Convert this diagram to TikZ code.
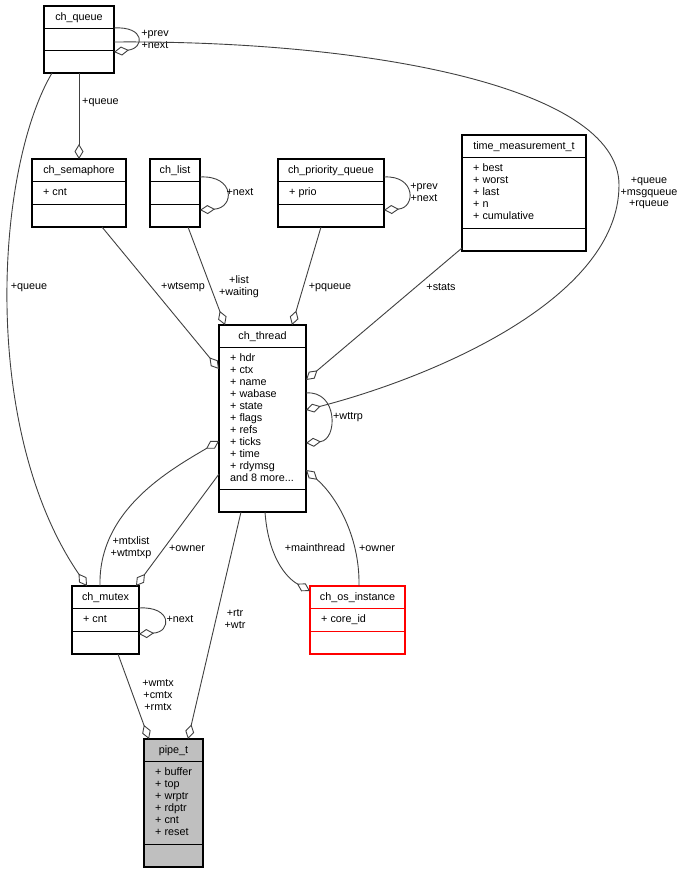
\documentclass[tikz,border=0pt]{standalone}
\usepackage{fontspec}
\setmainfont{Liberation Sans}
\usetikzlibrary{arrows.meta}
\definecolor{edgec}{HTML}{404040}
\definecolor{pipefill}{HTML}{BFBFBF}
\tikzset{
  box/.style={draw=black, line width=1.2pt, inner sep=0pt, outer sep=0pt, anchor=north west},
  rel/.style={draw=edgec, line width=0.9pt, -{Diamond[open,length=15pt,width=9pt,line width=0.9pt]}},
  lbl/.style={font=\fontsize{10.8}{12}\selectfont, align=center, inner sep=0pt},
  ttl/.style={font=\fontsize{10.8}{12}\selectfont, inner sep=0pt},
  attr/.style={font=\fontsize{10.8}{12}\selectfont, inner sep=0pt, anchor=base west},
}
\newcommand\umlclass[8]{%
  \node[box,#1,minimum width=#5-#3,minimum height=#6-#4] (#2) at (#3,#4) {};
  \draw[line width=1.2pt,#1] (#3,#4+22.5) -- (#5,#4+22.5);
  \draw[line width=1.2pt,#1] (#3,#6-22.5) -- (#5,#6-22.5);
  \node[ttl] (#2-title) at ({(#3+#5)/2},{#4+11.5}) {#7};
  \if\relax\detokenize{#8}\relax\else
  \node[attr] (#2-attrs) at (#3+11,#4+36) {\begin{tabular}[t]{@{}l@{}}#8\end{tabular}};
  \fi}
\begin{document}
\begin{tikzpicture}[x=1pt,y=-1pt]
\useasboundingbox (0,0) rectangle (683,873);
% classes
\umlclass{draw=black}{queue}{44}{6}{114}{73}{ch\_queue}{}
\umlclass{draw=black}{sem}{32}{159}{126}{227}{ch\_semaphore}{+ cnt}
\umlclass{draw=black}{list}{150}{159}{200}{227}{ch\_list}{}
\umlclass{draw=black}{pq}{278}{159}{384}{227}{ch\_priority\_queue}{+ prio}
\umlclass{draw=black}{tm}{462}{135}{586}{251}{time\_measurement\_t}{+ best\\+ worst\\+ last\\+ n\\+ cumulative}
\umlclass{draw=black}{thread}{219}{325}{306}{512}{ch\_thread}{+ hdr\\+ ctx\\+ name\\+ wabase\\+ state\\+ flags\\+ refs\\+ ticks\\+ time\\+ rdymsg\\and 8 more...}
\umlclass{draw=black}{mutex}{72}{586}{139}{654}{ch\_mutex}{+ cnt}
\umlclass{draw=red}{os}{310}{586}{405}{654}{ch\_os\_instance}{+ core\_id}
\umlclass{fill=pipefill}{pipe}{144}{739}{203}{867}{pipe\_t}{+ buffer\\+ top\\+ wrptr\\+ rdptr\\+ cnt\\+ reset}
% edges
\draw[rel] ([shift={(70,22)}]queue.north west) .. controls (145,26) and (145,48) .. ([shift={(70,46)}]queue.north west);
\node[lbl] (l1) at (155,39) {+prev\\+next};
\draw[rel] ([shift={(70,36)}]queue.north west) .. controls (360,40) and (619,85) .. (619,185)
  .. controls (619,300) and (430,378) .. ([shift={(87,85)}]thread.north west);
\node[lbl] (l2) at (649,193) {+queue\\+msgqueue\\+rqueue};
\draw[rel] ([shift={(35,67)}]queue.north west) -- ([shift={(47,0)}]sem.north west);
\node[lbl, anchor=west] (l3) at (82,103) {+queue};
\draw[rel] ([shift={(8,67)}]queue.north west) .. controls (-5,170) and (-20,430) .. ([shift={(15,0)}]mutex.north west);
\node[lbl] (l4) at (29,287) {+queue};
\draw[rel] ([shift={(70,68)}]sem.north west) -- ([shift={(0,44)}]thread.north west);
\node[lbl] (l5) at (183,287) {+wtsemp};
\draw[rel] ([shift={(38,68)}]list.north west) -- ([shift={(6,0)}]thread.north west);
\node[lbl] (l6) at (239,287) {+list\\+waiting};
\draw[rel] ([shift={(50,18)}]list.north west) .. controls (235,175) and (235,208) .. ([shift={(50,51)}]list.north west);
\node[lbl] (l7) at (240,192) {+next};
\draw[rel] ([shift={(43,68)}]pq.north west) -- ([shift={(73,0)}]thread.north west);
\node[lbl] (l8) at (330,287) {+pqueue};
\draw[rel] ([shift={(106,18)}]pq.north west) .. controls (416,175) and (416,208) .. ([shift={(106,51)}]pq.north west);
\node[lbl] (l9) at (424,192) {+prev\\+next};
\draw[rel] ([shift={(0,113)}]tm.north west) -- ([shift={(87,55)}]thread.north west);
\node[lbl] (l10) at (441,287) {+stats};
\draw[rel] ([shift={(87,68)}]thread.north west) .. controls (338,390) and (338,440) .. ([shift={(87,118)}]thread.north west);
\node[lbl] (l11) at (348,417) {+wttrp};
\draw[rel] ([shift={(28,0)}]mutex.north west) .. controls (98,510) and (170,470) .. ([shift={(0,116)}]thread.north west);
\node[lbl] (l12) at (131,548) {+mtxlist\\+wtmtxp};
\draw[rel] ([shift={(0,149)}]thread.north west) -- ([shift={(64,0)}]mutex.north west);
\node[lbl] (l13) at (187,548) {+owner};
\draw[rel] ([shift={(22,187)}]thread.north west) -- ([shift={(44,0)}]pipe.north west);
\node[lbl] (l14) at (235,619) {+rtr\\+wtr};
\draw[rel] ([shift={(46,68)}]mutex.north west) -- ([shift={(5,0)}]pipe.north west);
\node[lbl] (l15) at (158,695) {+wmtx\\+cmtx\\+rmtx};
\draw[rel] ([shift={(46,187)}]thread.north west) .. controls (268,555) and (285,577) .. ([shift={(0,5)}]os.north west);
\node[lbl] (l16) at (315,548) {+mainthread};
\draw[rel] ([shift={(49,0)}]os.north west) .. controls (360,535) and (335,495) .. ([shift={(87,145)}]thread.north west);
\node[lbl] (l17) at (377,548) {+owner};
\draw[rel] ([shift={(67,22)}]mutex.north west) .. controls (172,606) and (172,632) .. ([shift={(67,48)}]mutex.north west);
\node[lbl] (l18) at (180,619) {+next};
\end{tikzpicture}
\end{document}
